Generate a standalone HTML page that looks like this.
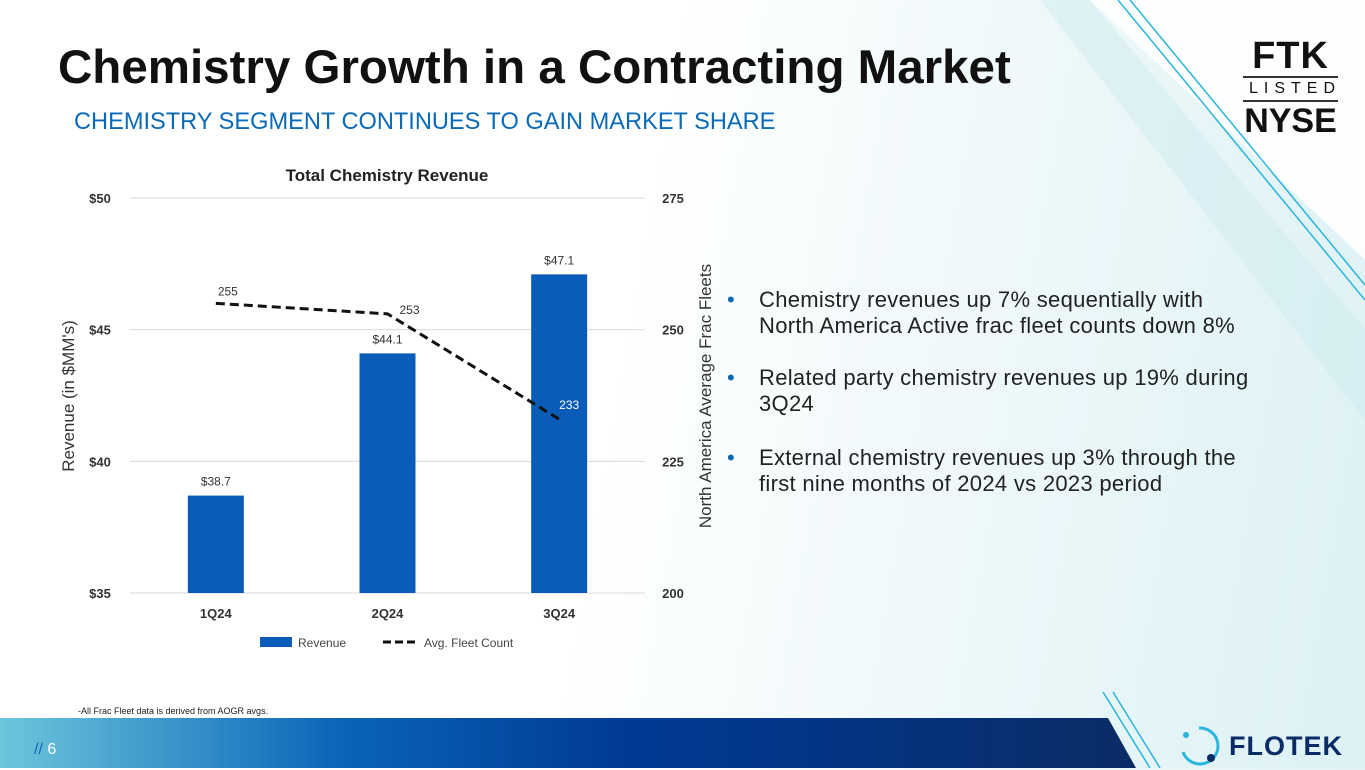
<!DOCTYPE html>
<html><head><meta charset="utf-8">
<style>
*{margin:0;padding:0;box-sizing:border-box}
body{width:1365px;height:768px;overflow:hidden;position:relative;font-family:"Liberation Sans",sans-serif;background:linear-gradient(100deg,#fff 0%,#fff 45%,#eef8fa 70%,#dcf1f4 100%)}
.abs{position:absolute}
.b{display:flex}
.b .d{color:#0a6ab8;width:32px;flex:0 0 32px}
</style></head><body>
<svg class="abs" style="left:0;top:0" width="1365" height="768">
<polygon points="1090,0 1365,0 1365,260" fill="#ffffff" opacity="0.9"/>
<polygon points="1040,0 1090,0 1365,330 1365,420" fill="#cfecf0" opacity="0.5"/>
<line x1="1118" y1="0" x2="1365" y2="300" stroke="#29b5dc" stroke-width="1.5"/>
<line x1="1130" y1="0" x2="1365" y2="285" stroke="#29b5dc" stroke-width="1.5"/>
<defs><linearGradient id="bg" x1="0" x2="1" y1="0" y2="0">
<stop offset="0" stop-color="#6ec6dc"/><stop offset="0.3" stop-color="#0a64b8"/><stop offset="0.55" stop-color="#003a96"/><stop offset="1" stop-color="#0a2c66"/></linearGradient></defs>
<polygon points="0,718 1108,718 1136,768 0,768" fill="url(#bg)"/>
<line x1="1103" y1="692" x2="1150" y2="768" stroke="#29b5dc" stroke-width="1.5"/>
<line x1="1113" y1="692" x2="1160" y2="768" stroke="#29b5dc" stroke-width="1.5"/>
</svg>

<div class="abs" style="left:58px;top:40px;font-size:47.5px;font-weight:bold;color:#111">Chemistry Growth in a Contracting Market</div>
<div class="abs" style="left:74px;top:109px;font-size:23.6px;color:#0a6ab8">CHEMISTRY SEGMENT CONTINUES TO GAIN MARKET SHARE</div>

<div class="abs" style="left:1243px;top:38px;width:95px;text-align:center;color:#111">
<div style="font-size:38px;font-weight:bold;line-height:36px;letter-spacing:1px">FTK</div>
<div style="border-top:2px solid #333;border-bottom:2px solid #333;font-size:16px;letter-spacing:6px;padding-left:6px;line-height:22px;margin:2px 0">LISTED</div>
<div style="font-size:34px;font-weight:bold;line-height:34px">NYSE</div>
</div>

<svg class="abs" style="left:0;top:0" width="1365" height="768" id="chart"></svg>

<div class="abs" style="left:727px;top:287px;width:522px;font-size:22px;letter-spacing:0.3px;color:#222;line-height:26px">
<div class="b" style="margin-bottom:26px"><span class="d">•</span><span>Chemistry revenues up 7% sequentially with North America Active frac fleet counts down 8%</span></div>
<div class="b" style="margin-bottom:28px"><span class="d">•</span><span>Related party chemistry revenues up 19% during 3Q24</span></div>
<div class="b"><span class="d">•</span><span>External chemistry revenues up 3% through the first nine months of 2024 vs 2023 period</span></div>
</div>

<div class="abs" style="left:78px;top:706px;font-size:9px;color:#222">-All Frac Fleet data is derived from AOGR avgs.</div>
<div class="abs" style="left:34px;top:741px;font-size:16px;color:#fff"><span style="color:#0a6ab8">//</span> 6</div>

<div class="abs" style="left:1175px;top:722px;display:flex;align-items:center">
<svg width="48" height="48"><path d="M24 6 A18 18 0 1 1 8 30" fill="none" stroke="#29b5dc" stroke-width="3"/><circle cx="11" cy="13" r="3" fill="#29b5dc"/><circle cx="36" cy="36" r="4" fill="#0a2c66"/></svg>
<span style="font-size:27px;font-weight:bold;color:#0a2c66;margin-left:6px;letter-spacing:1px">FLOTEK</span>
</div>

<script>
const categories=["1Q24","2Q24","3Q24"];
const revenue=[38.7,44.1,47.1];
const fleets=[255,253,233];
const leftTicks=[35,40,45,50];
const rightTicks=[200,225,250,275];
const svg=document.getElementById('chart');
const NS='http://www.w3.org/2000/svg';
const X0=130,X1=645,Y0=593,Y1=198;
const yL=v=>Y0-(v-35)/(50-35)*(Y0-Y1);
const yR=v=>Y0-(v-200)/(275-200)*(Y0-Y1);
const xC=i=>X0+(X1-X0)*(i+0.5)/categories.length;
function el(t,a,txt){const e=document.createElementNS(NS,t);for(const k in a)e.setAttribute(k,a[k]);if(txt!=null)e.textContent=txt;svg.appendChild(e);return e;}
leftTicks.forEach((v,i)=>{
 const g=el('line',{x1:X0,x2:X1,y1:yL(v),y2:yL(v),stroke:'#d9d9d9','stroke-width':1});
 
 
 const t=el('text',{x:100,y:yL(v)+5,'font-size':13,'font-weight':'bold','text-anchor':'middle',fill:'#333'},'$'+v);
 
 
});
rightTicks.forEach(v=>{
 const t=el('text',{x:673,y:yR(v)+5,'font-size':13,'font-weight':'bold','text-anchor':'middle',fill:'#333'},v);
 
 
});
categories.forEach((c,i)=>{
 const b=el('rect',{x:xC(i)-28,y:yL(revenue[i]),width:56,height:Y0-yL(revenue[i]),fill:'#0a5cb8'});
 
 
 const l=el('text',{x:xC(i),y:yL(revenue[i])-10,'font-size':12,'text-anchor':'middle',fill:'#333'},'$'+revenue[i].toFixed(1));
 
 
 const t=el('text',{x:xC(i),y:618,'font-size':13,'font-weight':'bold','text-anchor':'middle',fill:'#333'},c);
 
 
});
const pts=fleets.map((v,i)=>xC(i)+','+yR(v)).join(' ');
const pl=el('polyline',{points:pts,fill:'none',stroke:'#111','stroke-width':3,'stroke-dasharray':'9,5'});


const off=[[12,-8],[22,0],[10,-10]];
fleets.forEach((v,i)=>{
 const t=el('text',{x:xC(i)+off[i][0],y:yR(v)+off[i][1],'font-size':12,'text-anchor':'middle',fill:i==2?'#fff':'#333'},v);
 
 
});
const tt=el('text',{x:387,y:181,'font-size':17,'font-weight':'bold','text-anchor':'middle',fill:'#222'},'Total Chemistry Revenue');


const ya=el('text',{x:0,y:0,'font-size':17,'text-anchor':'middle',fill:'#333',transform:'translate(74,396) rotate(-90)'},"Revenue (in $MM's)");


const yb=el('text',{x:0,y:0,'font-size':17,'text-anchor':'middle',fill:'#333',transform:'translate(711,396) rotate(-90)'},'North America Average Frac Fleets');


const lr=el('rect',{x:260,y:637,width:32,height:10,fill:'#0a5cb8'});


const lt=el('text',{x:298,y:647,'font-size':12,fill:'#444'},'Revenue');


const ll=el('line',{x1:383,x2:415,y1:642,y2:642,stroke:'#111','stroke-width':3,'stroke-dasharray':'8,4'});


const lt2=el('text',{x:424,y:647,'font-size':12,fill:'#444'},'Avg. Fleet Count');


</script>
</body></html>
